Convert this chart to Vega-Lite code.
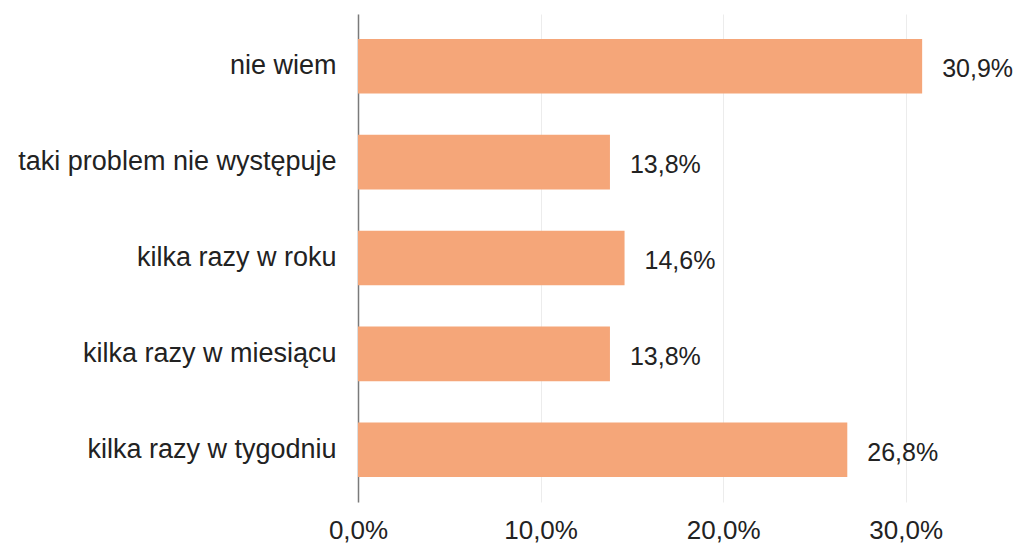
{
  "$schema": "https://vega.github.io/schema/vega-lite/v6.json",
  "width": 639,
  "height": 488,
  "autosize": "none",
  "padding": {"left": 358, "top": 14, "right": 20, "bottom": 45},
  "background": "white",
  "config": {
    "locale": {"number": {"decimal": ",", "thousands": " ", "grouping": [3], "currency": ["", " zł"]}},
    "view": {"stroke": null},
    "font": "Liberation Sans"
  },
  "data": {
    "values": [
      {"kategoria": "nie wiem", "wartosc": 0.309},
      {"kategoria": "taki problem nie występuje", "wartosc": 0.138},
      {"kategoria": "kilka razy w roku", "wartosc": 0.146},
      {"kategoria": "kilka razy w miesiącu", "wartosc": 0.138},
      {"kategoria": "kilka razy w tygodniu", "wartosc": 0.268}
    ]
  },
  "encoding": {
    "y": {
      "field": "kategoria",
      "type": "nominal",
      "sort": null,
      "scale": {"paddingInner": 0.43, "paddingOuter": 0.26},
      "axis": {
        "title": null,
        "ticks": false,
        "domain": true,
        "domainColor": "#7a7a7a",
        "domainWidth": 1.5,
        "labelFontSize": 27,
        "labelColor": "#222222",
        "labelPadding": 22,
        "labelLimit": 400,
        "labelFont": "Liberation Sans"
      }
    },
    "x": {
      "field": "wartosc",
      "type": "quantitative",
      "scale": {"domain": [0, 0.35], "nice": false},
      "axis": {
        "title": null,
        "values": [0, 0.1, 0.2, 0.3],
        "format": ".1%",
        "domain": false,
        "ticks": false,
        "grid": true,
        "gridColor": "#ececec",
        "gridWidth": 1,
        "labelFlush": false,
        "labelFontSize": 26,
        "labelColor": "#222222",
        "labelPadding": 15,
        "labelFont": "Liberation Sans"
      }
    }
  },
  "layer": [
    {"mark": {"type": "bar", "color": "#F5A679"}},
    {
      "mark": {"type": "text", "align": "left", "baseline": "middle", "dx": 20, "dy": 3, "fontSize": 25, "color": "#222222", "font": "Liberation Sans"},
      "encoding": {"text": {"field": "wartosc", "type": "quantitative", "format": ".1%"}}
    }
  ]
}
